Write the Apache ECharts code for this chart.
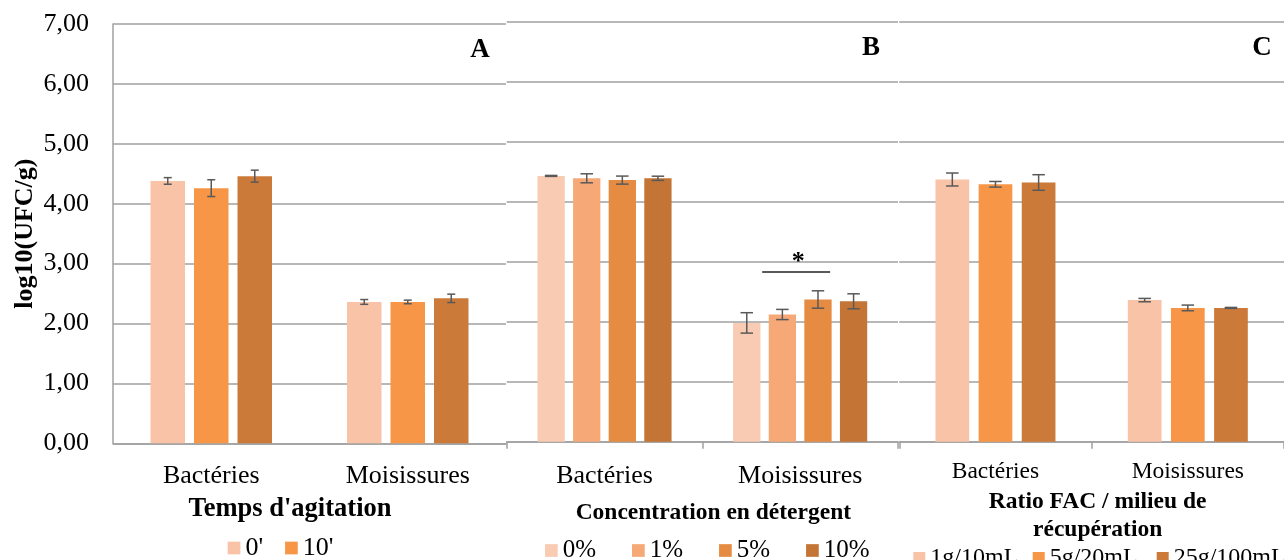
<!DOCTYPE html>
<html>
<head>
<meta charset="utf-8">
<script src="https://cdn.jsdelivr.net/npm/echarts@6/dist/echarts.min.js"></script>
<style>html,body{margin:0;padding:0;background:#fff}#c{width:1284px;height:560px}</style>
</head>
<body>
<div id="c"></div>
<script>
// ---------- DATA ----------
const categories = ['Bactéries', 'Moisissures'];
const yTickLabels = ['0,00', '1,00', '2,00', '3,00', '4,00', '5,00', '6,00', '7,00'];

// Panel A : Temps d'agitation
const namesA = ["0'", "10'", "20'"];
const legendA = ["0'", "10'"];
const valuesA = [
  [4.38, 2.36],
  [4.26, 2.36],
  [4.46, 2.42]
];
const errorsA = [
  [0.055, 0.04],
  [0.14, 0.03],
  [0.10, 0.07]
];

// Panel B : Concentration en détergent
const namesB = ['0%', '1%', '5%', '10%'];
const valuesB = [
  [4.43, 1.98],
  [4.39, 2.12],
  [4.36, 2.37],
  [4.39, 2.34]
];
const errorsB = [
  [0.008, 0.17],
  [0.075, 0.085],
  [0.067, 0.145],
  [0.035, 0.125]
];
const sigCategory = 1;
const sigLevel = 2.83;
const sigMark = '*';

// Panel C : Ratio FAC / milieu de récupération
const namesC = ['1g/10mL', '5g/20mL', '25g/100mL'];
const valuesC = [
  [4.37, 2.36],
  [4.29, 2.23],
  [4.32, 2.23]
];
const errorsC = [
  [0.108, 0.028],
  [0.047, 0.047],
  [0.13, 0.008]
];

const titleA = "Temps d'agitation";
const titleB = 'Concentration en détergent';
const titleC = 'Ratio FAC / milieu de\nrécupération';
const yTitle = 'log10(UFC/g)';
const panelLetters = ['A', 'B', 'C'];

// ---------- STYLE ----------
const FONT = '"Liberation Serif", "Times New Roman", serif';
const GRID_COLOR = '#A0A0A0';
const ERR_COLOR = '#595959';
const colorsA = ['#F9C3A8', '#F69646', '#CC7A39'];
const colorsB = ['#F8CBB2', '#F6A877', '#E68C42', '#C47535'];
const colorsC = ['#F9C3A8', '#F69646', '#CC7A39'];

const panels = [
  { names: namesA, values: valuesA, errors: errorsA, colors: colorsA, bw: 34.5, gap: 9, cap: 8 },
  { names: namesB, values: valuesB, errors: errorsB, colors: colorsB, bw: 27.3, gap: 8.3, cap: 12.5 },
  { names: namesC, values: valuesC, errors: errorsC, colors: colorsC, bw: 33.7, gap: 9.45, cap: 12.5 }
];

function errRender(n, bw, gap, capW) {
  return function (params, api) {
    const cat = api.value(0), v = api.value(1), e = api.value(2), k = api.value(3);
    const c = api.coord([cat, v]);
    const x = c[0] + (k - (n - 1) / 2) * (bw + gap);
    const yt = api.coord([cat, v + e])[1];
    const yb = api.coord([cat, v - e])[1];
    const st = { stroke: ERR_COLOR, lineWidth: 1.5 };
    return {
      type: 'group',
      children: [
        { type: 'line', shape: { x1: x, y1: yt, x2: x, y2: yb }, style: st },
        { type: 'line', shape: { x1: x - capW / 2, y1: yt, x2: x + capW / 2, y2: yt }, style: st },
        { type: 'line', shape: { x1: x - capW / 2, y1: yb, x2: x + capW / 2, y2: yb }, style: st }
      ]
    };
  };
}

const series = [];
panels.forEach(function (p, pi) {
  p.names.forEach(function (name, k) {
    series.push({
      type: 'bar',
      name: name,
      xAxisIndex: pi,
      yAxisIndex: pi,
      data: p.values[k],
      barWidth: p.bw,
      barGap: (p.gap / p.bw * 100).toFixed(1) + '%',
      itemStyle: { color: p.colors[k] },
      z: 2
    });
  });
  const errData = [];
  p.names.forEach(function (name, k) {
    categories.forEach(function (c, i) {
      errData.push([i, p.values[k][i], p.errors[k][i], k]);
    });
  });
  series.push({
    type: 'custom',
    name: 'err' + pi,
    xAxisIndex: pi,
    yAxisIndex: pi,
    data: errData,
    renderItem: errRender(p.names.length, p.bw, p.gap, p.cap),
    z: 5,
    silent: true
  });
});

// significance bar in panel B
series.push({
  type: 'custom',
  name: 'sig',
  xAxisIndex: 1,
  yAxisIndex: 1,
  data: [[sigCategory, sigLevel]],
  z: 6,
  silent: true,
  renderItem: function (params, api) {
    const c = api.coord([api.value(0), api.value(1)]);
    return {
      type: 'group',
      children: [
        { type: 'line', shape: { x1: c[0] - 38, y1: c[1], x2: c[0] + 30, y2: c[1] },
          style: { stroke: ERR_COLOR, lineWidth: 2 } },
        { type: 'text', x: c[0] - 2, y: c[1] - 10,
          style: { text: sigMark, font: 'bold 26px ' + FONT, fill: '#000',
                   textAlign: 'center', textVerticalAlign: 'middle' } }
      ]
    };
  }
});

const axisLabelCommon = { color: '#000', fontFamily: FONT };

function legendItem(names, left, top, size, fs, gap) {
  return { data: names, left: left, top: top, padding: 0, itemWidth: size, itemHeight: size, itemGap: gap, icon: 'rect',
    selectedMode: false, textStyle: { fontFamily: FONT, fontSize: fs, color: '#000', lineHeight: fs } };
}

const option = {
  animation: false,
  backgroundColor: '#fff',
  grid: [
    { left: 113, top: 24, width: 393, height: 419.3 },
    { left: 506.7, top: 21.7, width: 391.3, height: 420 },
    { left: 899.3, top: 21.7, width: 386, height: 420 }
  ],
  xAxis: [
    {
      type: 'category', gridIndex: 0, data: categories,
      axisLine: { lineStyle: { color: GRID_COLOR, width: 1.5 } },
      axisTick: { show: false },
      axisLabel: Object.assign({ fontSize: 26, margin: 20 }, axisLabelCommon),
      name: titleA, nameLocation: 'middle', nameGap: 53,
      nameTextStyle: { fontFamily: FONT, fontWeight: 'bold', fontSize: 26.5, color: '#000', lineHeight: 26, padding: [0, 39, 0, 0] }
    },
    {
      type: 'category', gridIndex: 1, data: categories,
      axisLine: { lineStyle: { color: GRID_COLOR, width: 1.5 } },
      axisTick: { show: true, length: 7, lineStyle: { color: GRID_COLOR, width: 1.5 } },
      axisLabel: Object.assign({ fontSize: 26, margin: 21 }, axisLabelCommon),
      name: titleB, nameLocation: 'middle', nameGap: 59.5,
      nameTextStyle: { fontFamily: FONT, fontWeight: 'bold', fontSize: 23.5, color: '#000', lineHeight: 23.5, padding: [0, 0, 0, 22] }
    },
    {
      type: 'category', gridIndex: 2, data: categories,
      axisLine: { lineStyle: { color: GRID_COLOR, width: 1.5 } },
      axisTick: { show: true, length: 7, lineStyle: { color: GRID_COLOR, width: 1.5 } },
      axisLabel: Object.assign({ fontSize: 23.5, margin: 18 }, axisLabelCommon),
      name: titleC, nameLocation: 'middle', nameGap: 37,
      nameTextStyle: { fontFamily: FONT, fontWeight: 'bold', fontSize: 23.5, color: '#000', lineHeight: 27.6, padding: [0, 0, 0, 12] }
    }
  ],
  yAxis: [0, 1, 2].map(function (gi) {
    return {
      type: 'value', gridIndex: gi, min: 0, max: 7, interval: 1,
      axisLine: { show: gi === 0, lineStyle: { color: GRID_COLOR, width: 1.5 } },
      axisTick: { show: false },
      splitLine: { show: true, lineStyle: { color: GRID_COLOR, width: 1.5 } },
      axisLabel: Object.assign({
        show: gi === 0, fontSize: 26, margin: 24,
        formatter: function (v) { return yTickLabels[Math.round(v)]; }
      }, axisLabelCommon),
      name: gi === 0 ? yTitle : '',
      nameLocation: 'middle', nameGap: 75, nameRotate: 90,
      nameTextStyle: { fontFamily: FONT, fontWeight: 'bold', fontSize: 26, color: '#000' }
    };
  }),
  legend: [
    legendItem(legendA, 227.7, 535, 12.7, 26, 22),
    legendItem(namesB, 545, 538, 12.7, 25, 36),
    legendItem([namesC[0]], 913.3, 546, 12, 24, 10),
    legendItem([namesC[1]], 1032.7, 546, 12, 24, 10),
    legendItem([namesC[2]], 1156.7, 546, 12, 24, 10)
  ],
  graphic: [
    { type: 'text', x: 480, y: 50, style: { text: panelLetters[0], font: 'bold 27px ' + FONT, fill: '#000', textAlign: 'center', textVerticalAlign: 'middle' } },
    { type: 'text', x: 871, y: 48, style: { text: panelLetters[1], font: 'bold 27px ' + FONT, fill: '#000', textAlign: 'center', textVerticalAlign: 'middle' } },
    { type: 'text', x: 1262, y: 48, style: { text: panelLetters[2], font: 'bold 27px ' + FONT, fill: '#000', textAlign: 'center', textVerticalAlign: 'middle' } }
  ],
  series: series
};

const chart = echarts.init(document.getElementById('c'), null, { renderer: 'canvas' });
chart.setOption(option);
</script>
</body>
</html>
